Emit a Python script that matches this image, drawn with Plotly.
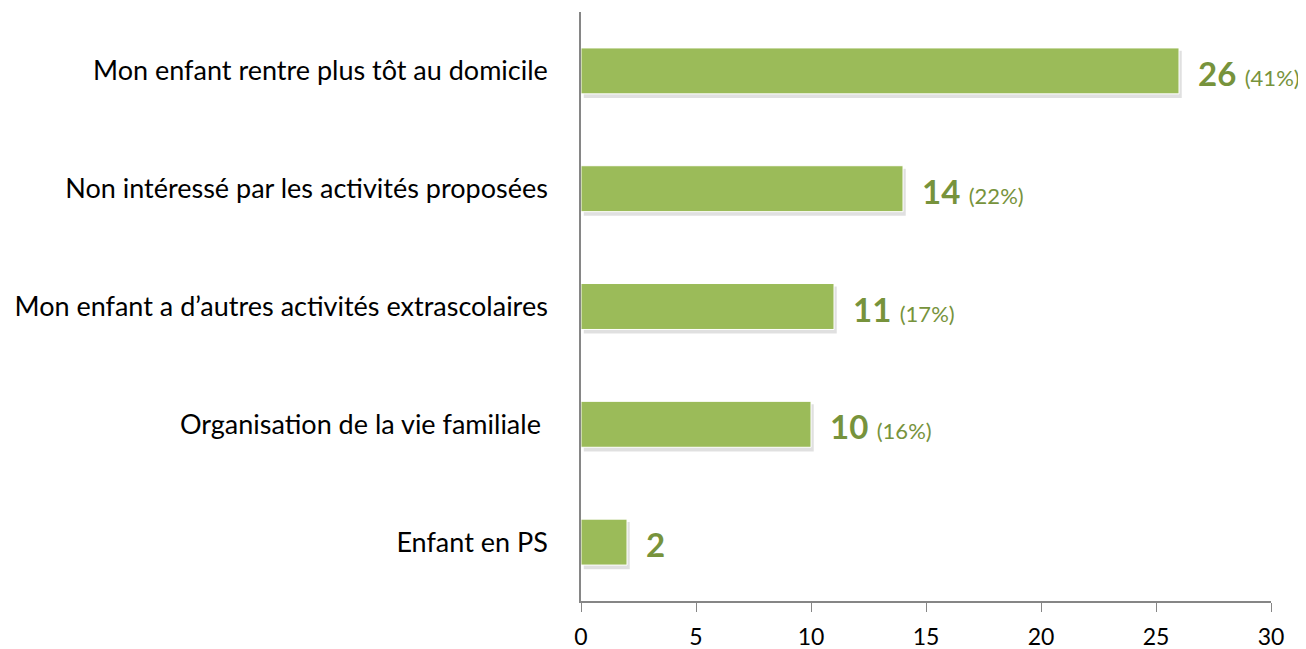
import plotly.graph_objects as go

categories = [
    "Mon enfant rentre plus tôt au domicile",
    "Non intéressé par les activités proposées",
    "Mon enfant a d’autres activités extrascolaires",
    "Organisation de la vie familiale\u00a0",
    "Enfant en PS",
]
counts = [26, 14, 11, 10, 2]
percents = ["(41%)", "(22%)", "(17%)", "(16%)", ""]
x_ticks = [0, 5, 10, 15, 20, 25, 30]

BAR = "#9BBB59"
LABEL = "#77933C"
AXIS = "#868686"
FONT = "Lato"

fig = go.Figure()
# soft shadow behind bars
fig.add_trace(go.Bar(
    y=categories, x=counts, base=0.12, orientation="h", width=0.40,
    offset=-0.17, marker=dict(color="rgba(0,0,0,0.12)", line=dict(width=0)),
    hoverinfo="skip", showlegend=False,
))
fig.add_trace(go.Bar(
    y=categories, x=counts, orientation="h", width=0.39, offset=-0.195,
    marker=dict(color=BAR, line=dict(color="#FFFFFF", width=1)),
    showlegend=False,
))

for c, v, p in zip(categories, counts, percents):
    txt = f"<b>{v}</b>"
    if p:
        txt += f" <span style='font-size:22px'>{p}</span>"
    fig.add_annotation(
        x=v, y=c, text=txt, showarrow=False, xanchor="left", xshift=17, yshift=-2,
        font=dict(family=FONT, size=33, color=LABEL),
    )

fig.update_layout(
    width=1306, height=649,
    margin=dict(l=573, r=43, t=4, b=56),
    paper_bgcolor="white", plot_bgcolor="white",
    barmode="overlay",
    font=dict(family=FONT, size=27, color="#000000"),
)
fig.update_xaxes(
    range=[0, 30], tickvals=x_ticks, ticks="outside", ticklen=9, tickcolor=AXIS,
    showline=True, linecolor=AXIS, linewidth=1.5, showgrid=False, zeroline=False,
    tickfont=dict(size=23, color="#000000"), ticklabelstandoff=6, fixedrange=True,
)
fig.update_yaxes(
    autorange="reversed", showline=True, linecolor=AXIS, linewidth=1.5,
    ticks="", showgrid=False, ticklabelstandoff=26,
    tickfont=dict(size=27, color="#000000"),
)

fig.write_html("out.html")
